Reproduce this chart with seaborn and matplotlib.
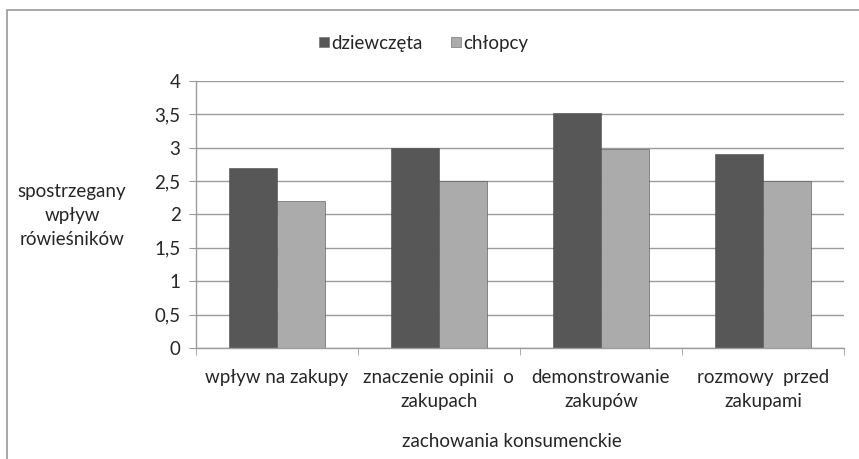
import numpy as np
import pandas as pd
import matplotlib
matplotlib.use("Agg")
import matplotlib.pyplot as plt
import seaborn as sns
from matplotlib.patches import Rectangle
from matplotlib.ticker import FuncFormatter, FixedLocator

# data
categories = ["wpływ na zakupy", "znaczenie opinii  o\nzakupach",
              "demonstrowanie\nzakupów", "rozmowy  przed\nzakupami"]
girls = [2.7, 3.0, 3.52, 2.9]
boys = [2.2, 2.5, 2.98, 2.5]
series = ["dziewczęta", "chłopcy"]

df = pd.DataFrame({
    "kategoria": categories * 2,
    "wartosc": girls + boys,
    "grupa": [series[0]] * 4 + [series[1]] * 4,
})

sns.set_style("white")
plt.rcParams["font.family"] = ["Lato", "DejaVu Sans"]
fs = 13.5

fig = plt.figure(figsize=(8.59, 4.59), dpi=100)
ax = fig.add_axes([0.228, 0.2418, 0.7545, 0.582])

palette = {series[0]: "#575757", series[1]: "#ababab"}
sns.barplot(data=df, x="kategoria", y="wartosc", hue="grupa", palette=palette,
            width=0.59, gap=0, saturation=1, ax=ax, edgecolor="#4a4a4a",
            linewidth=0.4)

# grid and axes
ax.set_ylim(0, 4)
ax.set_xlim(-0.5, 3.5)
ax.set_yticks(np.arange(0, 4.01, 0.5))
ax.yaxis.set_major_formatter(FuncFormatter(lambda v, p: f"{v:g}".replace(".", ",")))
ax.grid(axis="y", color="#9c9c9c", linewidth=1)
ax.set_axisbelow(True)
for s in ["top", "right"]:
    ax.spines[s].set_visible(False)
for s in ["left", "bottom"]:
    ax.spines[s].set_color("#9c9c9c")
    ax.spines[s].set_linewidth(1)

ax.tick_params(axis="y", length=5, color="#9c9c9c", labelsize=fs, pad=6,
               left=True, direction="out")
ax.tick_params(axis="x", which="major", length=0, labelsize=fs, pad=15)
ax.xaxis.set_minor_locator(FixedLocator([-0.5, 0.5, 1.5, 2.5, 3.5]))
ax.tick_params(axis="x", which="minor", length=5, color="#9c9c9c",
               bottom=True, direction="out")
for lbl in ax.get_xticklabels():
    lbl.set_linespacing(1.5)

ax.set_xlabel("")
ax.set_ylabel("")
fig.text(0.5955, 0.038, "zachowania konsumenckie", ha="center", va="center",
         fontsize=fs)
fig.text(0.084, 0.53, "spostrzegany\nwpływ\nrówieśników", ha="center",
         va="center", fontsize=fs, linespacing=1.5)

# legend
ax.get_legend().remove()
handles = [plt.Line2D([], [], marker="s", linestyle="", markersize=7,
                      markerfacecolor=palette[s], markeredgecolor="#777777",
                      markeredgewidth=0.5) for s in series]
fig.legend(handles, series, loc="center", bbox_to_anchor=(0.492, 0.906),
           ncol=2, frameon=False, fontsize=fs, handletextpad=0.05,
           columnspacing=1.4, handlelength=0.7)

# chart border (cropped on right and bottom in the original)
fig.patches.append(Rectangle((7 / 859, -0.05), 1.2, 1 - 10 / 459 + 0.05,
                             transform=fig.transFigure, fill=False,
                             edgecolor="#9a9a9a", linewidth=1.2))

fig.savefig("out.png", dpi=100)
